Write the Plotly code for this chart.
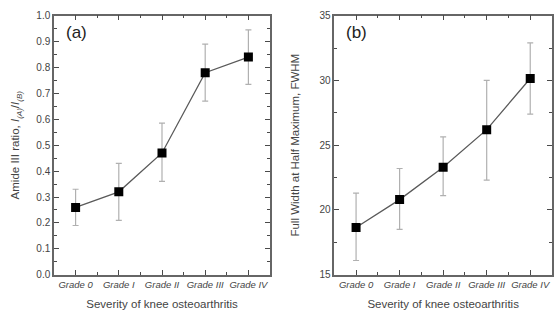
import plotly.graph_objects as go

grades = ["Grade 0", "Grade I", "Grade II", "Grade III", "Grade IV"]
ratio = [0.26, 0.32, 0.47, 0.78, 0.84]
ratio_hi = [0.33, 0.43, 0.585, 0.89, 0.945]
ratio_lo = [0.19, 0.21, 0.36, 0.67, 0.735]
fwhm = [18.65, 20.8, 23.3, 26.2, 30.15]
fwhm_hi = [21.3, 23.2, 25.65, 30.0, 32.9]
fwhm_lo = [16.1, 18.5, 21.1, 22.3, 27.4]

xs = list(range(len(grades)))
alias = {str(i): g for i, g in enumerate(grades)}

FONT = "Liberation Sans, Arial, sans-serif"
AX = "#4a4a4a"
TXT = "#444444"

fig = go.Figure()

def add_series(y, hi, lo, xa, ya):
    fig.add_trace(go.Scatter(
        x=xs, y=y, xaxis=xa, yaxis=ya, mode="lines+markers",
        line=dict(color="#5a5a5a", width=1.3),
        marker=dict(symbol="square", size=9, color="black"),
        error_y=dict(type="data", symmetric=False,
                     array=[h - v for h, v in zip(hi, y)],
                     arrayminus=[v - l for v, l in zip(y, lo)],
                     color="#b0b0b0", thickness=1.2, width=3),
        showlegend=False))

add_series(ratio, ratio_hi, ratio_lo, "x", "y")
add_series(fwhm, fwhm_hi, fwhm_lo, "x2", "y2")

TL, ML, TW = 5, 3, 1.4

def xaxis(domain, anchor, standoff):
    return dict(domain=domain, anchor=anchor, range=[-0.5, 4.5],
                tickmode="linear", tick0=0, dtick=1, labelalias=alias,
                ticks="inside", ticklen=TL, tickcolor=AX, tickwidth=TW,
                minor=dict(dtick=1, tick0=0.5, ticks="inside", ticklen=ML,
                           tickcolor=AX, tickwidth=TW),
                showline=True, linecolor="#666666", linewidth=1.5, mirror="allticks",
                showgrid=False, zeroline=False,
                tickfont=dict(family=FONT, size=9.5, color=TXT, style="italic"),
                title=dict(text="Severity of knee osteoarthritis",
                           font=dict(family=FONT, size=11.5, color=TXT), standoff=standoff))

def yaxis(domain, anchor, rng, dtick, mdtick, fmt, title, standoff):
    return dict(domain=domain, anchor=anchor, range=rng, dtick=dtick, tickformat=fmt,
                ticks="inside", ticklen=TL, tickcolor=AX, tickwidth=TW,
                minor=dict(dtick=mdtick, ticks="inside", ticklen=ML,
                           tickcolor=AX, tickwidth=TW),
                showline=True, linecolor="#666666", linewidth=1.5, mirror="allticks",
                showgrid=False, zeroline=False,
                tickfont=dict(family=FONT, size=10, color=TXT),
                title=dict(text=title, font=dict(family=FONT, size=11.5, color=TXT),
                           standoff=standoff))

ydom = [1 - 278.3 / 320, 1 - 10 / 320]
xdom1 = [54 / 556, 270 / 556]
xdom2 = [334.3 / 556, 552 / 556]

fig.update_layout(
    width=556, height=320, margin=dict(l=0, r=0, t=0, b=0),
    paper_bgcolor="white", plot_bgcolor="white",
    xaxis=xaxis(xdom1, "y", 11),
    yaxis=yaxis(ydom, "x", [0, 1.0], 0.1, 0.05, ".1f",
                "Amide III ratio, <i>I<sub>(A)</sub></i>/<i>I<sub>(B)</sub></i>", 14),
    xaxis2=xaxis(xdom2, "y2", 11),
    yaxis2=yaxis(ydom, "x2", [15, 35], 5, 2.5, "d",
                 "Full Width at Half Maximum, FWHM", 17),
    annotations=[
        dict(text="(a)", xref="x", yref="y", x=-0.28, y=0.935, showarrow=False,
             xanchor="left", font=dict(family=FONT, size=17, color="#222")),
        dict(text="(b)", xref="x2", yref="y2", x=-0.28, y=33.7, showarrow=False,
             xanchor="left", font=dict(family=FONT, size=17, color="#222")),
    ],
)

fig.write_html("out.html", config={"displayModeBar": False},
               post_script="document.body.style.margin='0';document.body.style.padding='0';")
